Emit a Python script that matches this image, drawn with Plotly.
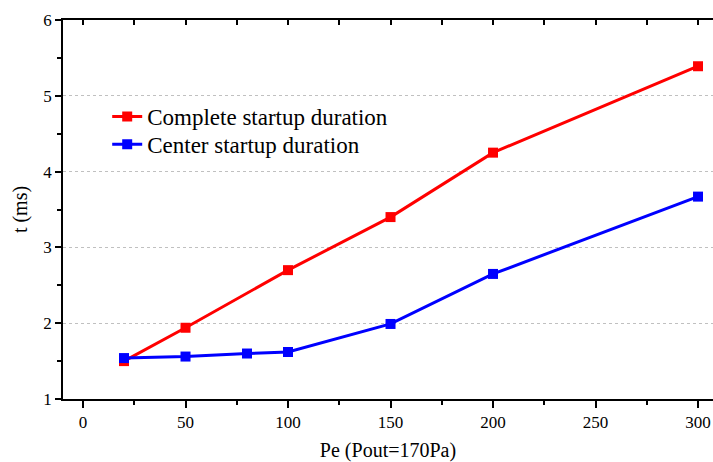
import plotly.graph_objects as go

x_complete = [20, 50, 100, 150, 200, 300]
t_complete = [1.50, 1.94, 2.70, 3.40, 4.25, 5.39]
x_center = [20, 50, 80, 100, 150, 200, 300]
t_center = [1.54, 1.56, 1.60, 1.62, 1.99, 2.65, 3.67]
x_ticks = [0, 50, 100, 150, 200, 250, 300]
y_ticks = [1, 2, 3, 4, 5, 6]

FONT = "Liberation Serif"

fig = go.Figure()
fig.add_trace(go.Scatter(x=x_complete, y=t_complete, mode="lines+markers",
                         name="Complete startup duration", legend="legend",
                         line=dict(color="#FF0000", width=3),
                         marker=dict(symbol="square", size=10, color="#FF0000")))
fig.add_trace(go.Scatter(x=x_center, y=t_center, mode="lines+markers",
                         name="Center startup duration", legend="legend2",
                         line=dict(color="#0000FF", width=3),
                         marker=dict(symbol="square", size=10, color="#0000FF")))

xr = [-9.76, 307.3]
leg_common = dict(xanchor="left", yanchor="top",
                  font=dict(family=FONT, size=23, color="black"),
                  bgcolor="rgba(0,0,0,0)")
fig.update_layout(
    width=713, height=462,
    margin=dict(l=63, r=0, t=20, b=63),
    paper_bgcolor="white", plot_bgcolor="white",
    font=dict(family=FONT, color="black", size=17),
    showlegend=True,
    legend=dict(x=0.068, y=0.802, **leg_common),
    legend2=dict(x=0.068, y=0.7285, **leg_common),
    xaxis=dict(range=xr, tickvals=x_ticks, ticks="outside", ticklen=7, tickwidth=1.5,
               tickcolor="black", showline=True, linecolor="black", linewidth=1.5,
               showgrid=False, zeroline=False,
               tickfont=dict(family=FONT, size=17),
               minor=dict(ticks="outside", ticklen=4, tickwidth=1.5, tickcolor="black",
                          dtick=25, tick0=0, showgrid=False),
               title=dict(text="Pe (Pout=170Pa)", font=dict(family=FONT, size=20), standoff=12)),
    xaxis2=dict(range=xr, overlaying="x", side="top", tickvals=x_ticks, ticks="inside",
                ticklen=5, tickwidth=1.5, tickcolor="black", showticklabels=False,
                showline=True, linecolor="black", linewidth=1.5, showgrid=False,
                zeroline=False,
                minor=dict(ticks="inside", ticklen=5, tickwidth=1.5, tickcolor="black",
                           dtick=25, tick0=0, showgrid=False)),
    yaxis=dict(range=[1, 6], tickvals=y_ticks, ticks="outside", ticklen=6, tickwidth=1.5,
               tickcolor="black", showline=True, linecolor="black", linewidth=1.5,
               showgrid=True, gridcolor="#C0C0C0", gridwidth=1, griddash="3px,3px",
               zeroline=False, tickfont=dict(family=FONT, size=17),
               minor=dict(ticks="outside", ticklen=4, tickwidth=1.5, tickcolor="black",
                          dtick=0.5, tick0=1, showgrid=False),
               title=dict(text="t (ms)", font=dict(family=FONT, size=20), standoff=10)),
)
# invisible trace so the top (mirrored) axis is drawn
fig.add_trace(go.Scatter(x=[x_ticks[0]], y=[y_ticks[0]], xaxis="x2", mode="markers",
                         marker=dict(opacity=0), showlegend=False, hoverinfo="skip"))

fig.write_html("out.html", config={"displayModeBar": False},
               post_script="document.body.style.margin='0';document.body.style.overflow='hidden';")
